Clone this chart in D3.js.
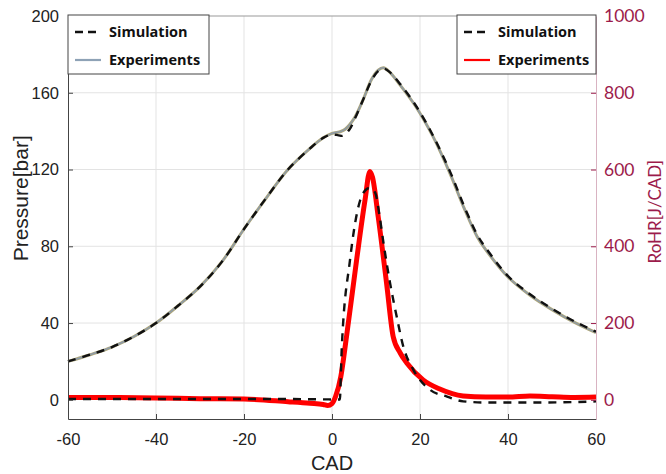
<!DOCTYPE html>
<html>
<head>
<meta charset="utf-8">
<script src="https://cdn.jsdelivr.net/npm/d3@7"></script>
<style>
  body { margin: 0; background: #fff; }
  svg { display: block; }
</style>
</head>
<body>
<svg id="graph" width="666" height="474"></svg>
<script>
/* Pressure + rate of heat release vs crank angle */

//Tick labels
let cadTicks = [-60, -40, -20, 0, 20, 40, 60];
let pressureTicks = [0, 40, 80, 120, 160, 200];
let rohrTicks = [0, 200, 400, 600, 800, 1000];

//Pressure [bar], experiments
let expPressCAD = [-60, -55, -50, -45, -40, -35, -30, -25, -20, -15, -10, -5, -2, 0, 2, 3, 5, 7, 9, 10.5, 11.7, 13, 15.5, 19, 23, 27, 30, 33, 35, 40, 45, 50, 55, 60];
let expPressVal = [20, 23.5, 27.5, 33, 40, 49, 59, 72, 89, 105, 120, 131, 136.5, 138.8, 139.8, 141, 146.5, 156, 167, 171.8, 173, 171, 164, 153, 137, 117, 100, 85, 78, 64, 54.5, 47, 40.5, 35];

//Pressure [bar], simulation
let simPressCAD = [-60, -55, -50, -45, -40, -35, -30, -25, -20, -15, -10, -5, -2, 0, 1.5, 2.5, 4, 5, 7, 9, 10.5, 11.8, 13, 15.5, 19, 23, 27, 30, 33, 35, 40, 45, 50, 55, 60];
let simPressVal = [20, 23.5, 27.5, 33, 40, 49, 59, 72, 89, 105, 120, 131, 136.5, 138.3, 137.8, 137.6, 141, 145.5, 156, 166.5, 171.3, 172.5, 171, 164.5, 153.5, 137.5, 118, 101, 86, 79, 64.5, 55, 47.5, 41, 35.5];

//RoHR [J/CAD], experiments
let expRohrCAD = [-60, -50, -40, -30, -20, -10, -5, -2, -1, 0, 0.8, 2, 3.3, 5.6, 7.5, 8.6, 9.2, 10.5, 12.4, 13.9, 15.5, 17, 20.7, 24.5, 29.8, 35, 40, 45, 50, 55, 60];
let expRohrVal = [6, 6, 5, 3, 2, -5, -9, -12, -15, -10, 8, 60, 165, 365, 520, 595, 580, 477, 304, 165, 122, 96, 52, 28, 10, 7, 7, 10, 8, 6, 7];

//RoHR [J/CAD], simulation
let simRohrCAD = [-60, -20, -10, 0, 1.8, 2.0, 2.2, 4.1, 6.4, 7.5, 8.5, 9.8, 10.8, 11.7, 13.2, 14.7, 16.2, 18.5, 22.3, 26, 29.8, 35, 45, 55, 60];
let simRohrVal = [2, 2, 2, 1, 1, 60, 130, 365, 520, 545, 552, 540, 480, 409, 304, 217, 139, 78, 26, 9, -4, -7, -7, -6, -4];

let legendLabels = ["Simulation", "Experiments"];

/******************************Graph setup*******************************/

let margin = {left: 68, right: 70, top: 16, bottom: 55};
let width = 666 - margin.left - margin.right;
let height = 474 - margin.top - margin.bottom;

let maroon = "#9c1b4b";

let svg = d3.select("svg#graph");
let g = svg.append("g").attr("transform", `translate(${margin.left},${margin.top})`);

let x = d3.scaleLinear().domain([-60, 60]).range([0, width]);
let yLeft = d3.scaleLinear().domain([-10, 200]).range([height, 0]);
let yRight = d3.scaleLinear().domain([-50, 1000]).range([height, 0]);

//zip two arrays into points
function pairs(xs, ys) {
  return xs.map((d, i) => [d, ys[i]]);
}

//plain hyphen, no thousands comma
let fmt = d => String(d);

//Gridlines
g.append("g")
  .selectAll("line")
  .data(cadTicks.slice(1, -1))
  .enter()
  .append("line")
  .attr("x1", d => x(d)).attr("x2", d => x(d))
  .attr("y1", 0).attr("y2", height)
  .attr("stroke", "#e3e3e3");

g.append("g")
  .selectAll("line")
  .data(pressureTicks.slice(1, -1))
  .enter()
  .append("line")
  .attr("x1", 0).attr("x2", width)
  .attr("y1", d => yLeft(d)).attr("y2", d => yLeft(d))
  .attr("stroke", "#e3e3e3");

/******************************Curves*******************************/

let pressLine = d3.line()
  .x(d => x(d[0]))
  .y(d => yLeft(d[1]))
  .curve(d3.curveCatmullRom.alpha(0.5));

let rohrLine = d3.line()
  .x(d => x(d[0]))
  .y(d => yRight(d[1]))
  .curve(d3.curveMonotoneX);

//experiments pressure: a few cycles overlapped, olive + grey blue
g.append("path")
  .datum(pairs(expPressCAD, expPressVal))
  .attr("d", pressLine)
  .attr("fill", "none")
  .attr("stroke", "#b0a878")
  .attr("stroke-width", 3);

g.append("path")
  .datum(pairs(expPressCAD, expPressVal))
  .attr("d", pressLine)
  .attr("fill", "none")
  .attr("stroke", "#8e9aa6")
  .attr("stroke-width", 1.6);

g.append("path")
  .datum(pairs(simPressCAD, simPressVal))
  .attr("d", pressLine)
  .attr("fill", "none")
  .attr("stroke", "#111")
  .attr("stroke-width", 2.4)
  .attr("stroke-dasharray", "8,7");

g.append("path")
  .datum(pairs(expRohrCAD, expRohrVal))
  .attr("d", rohrLine)
  .attr("fill", "none")
  .attr("stroke", "#ff0000")
  .attr("stroke-width", 5)
  .attr("stroke-linejoin", "round");

g.append("path")
  .datum(pairs(simRohrCAD, simRohrVal))
  .attr("d", rohrLine)
  .attr("fill", "none")
  .attr("stroke", "#111")
  .attr("stroke-width", 2.4)
  .attr("stroke-dasharray", "8,7");

/******************************Axes*******************************/

let xAxis = g.append("g")
  .attr("transform", `translate(0,${height})`)
  .call(d3.axisBottom(x).tickValues(cadTicks).tickFormat(fmt).tickSizeInner(-5).tickSizeOuter(0).tickPadding(14));

let leftAxis = g.append("g")
  .call(d3.axisLeft(yLeft).tickValues(pressureTicks).tickFormat(fmt).tickSizeInner(-5).tickSizeOuter(0).tickPadding(9));

let rightAxis = g.append("g")
  .attr("transform", `translate(${width},0)`)
  .call(d3.axisRight(yRight).tickValues(rohrTicks).tickFormat(fmt).tickSizeInner(-5).tickSizeOuter(0).tickPadding(8));

//top border
g.append("line")
  .attr("x1", 0).attr("x2", width)
  .attr("y1", 0).attr("y2", 0)
  .attr("stroke", "#999");

[xAxis, leftAxis].forEach(a => {
  a.select(".domain").attr("stroke", "#444");
  a.selectAll(".tick line").attr("stroke", "#444");
  a.selectAll("text")
    .attr("fill", "#222")
    .style("font-family", "Liberation Sans, Arial, sans-serif")
    .style("font-size", "16.5px");
});

rightAxis.select(".domain").attr("stroke", "#d9b3c2");
rightAxis.selectAll(".tick line").attr("stroke", maroon);
rightAxis.selectAll("text")
  .attr("fill", maroon)
  .style("font-family", "Lato, sans-serif")
  .style("font-size", "17.5px");

//axis titles
svg.append("text")
  .attr("x", margin.left + width / 2)
  .attr("y", 470)
  .attr("text-anchor", "middle")
  .style("font-family", "Liberation Sans, Arial, sans-serif")
  .style("font-size", "20px")
  .attr("fill", "#222")
  .text("CAD");

svg.append("text")
  .attr("transform", `translate(28,${margin.top + yLeft(105)}) rotate(-90)`)
  .attr("text-anchor", "middle")
  .style("font-family", "Liberation Sans, Arial, sans-serif")
  .style("font-size", "21px")
  .attr("fill", "#222")
  .text("Pressure[bar]");

svg.append("text")
  .attr("transform", `translate(661,${margin.top + yRight(490)}) rotate(-90)`)
  .attr("text-anchor", "middle")
  .style("font-family", "Lato, sans-serif")
  .style("font-size", "17px")
  .attr("fill", maroon)
  .text("RoHR[J/CAD]");

/******************************Legends*******************************/

function drawLegend(x0, w, expColor) {
  let lg = svg.append("g").attr("transform", `translate(${x0},15)`);
  lg.append("rect")
    .attr("width", w).attr("height", 59)
    .attr("fill", "#fff")
    .attr("stroke", "#444");
  let styles = [
    {color: "#111", dash: "8,5", w: 2.4},
    {color: expColor, dash: null, w: 2.2}
  ];
  legendLabels.forEach((label, i) => {
    let yy = 17 + i * 28;
    lg.append("line")
      .attr("x1", 7).attr("x2", 33)
      .attr("y1", yy).attr("y2", yy)
      .attr("stroke", styles[i].color)
      .attr("stroke-width", styles[i].w)
      .attr("stroke-dasharray", styles[i].dash);
    lg.append("text")
      .attr("x", 41).attr("y", yy + 5)
      .style("font-family", "Open Sans, sans-serif")
      .style("font-weight", "bold")
      .style("font-size", "14.5px")
      .attr("fill", "#111")
      .text(label);
  });
}

drawLegend(margin.left, 141, "#8ea2b6");
drawLegend(457, 139, "#ff0000");
</script>
</body>
</html>
